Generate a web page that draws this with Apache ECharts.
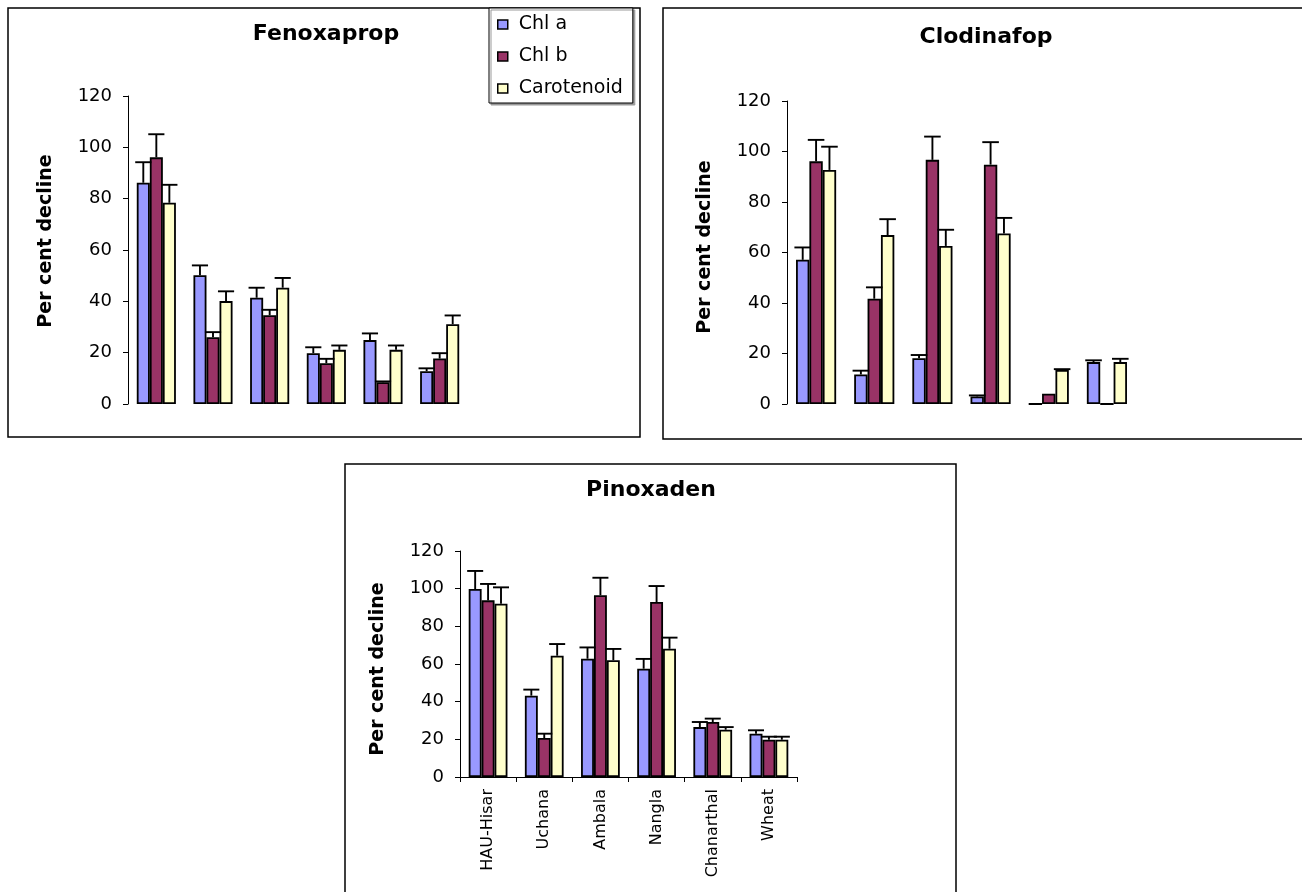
<!DOCTYPE html>
<html>
<head>
<meta charset="utf-8">
<script src="https://cdn.jsdelivr.net/npm/echarts@6/dist/echarts.min.js"></script>
<style>
html,body{margin:0;padding:0;background:#fff;}
#chart{width:1302px;height:892px;}
</style>
</head>
<body>
<div id="chart"></div>
<script>
// ---------------- DATA ----------------
const categories = ['HAU-Hisar', 'Uchana', 'Ambala', 'Nangla', 'Chanarthal', 'Wheat'];
const seriesNames = ['Chl a', 'Chl b', 'Carotenoid'];
const panelTitles = ['Fenoxaprop', 'Clodinafop', 'Pinoxaden'];
const yAxisTitle = 'Per cent decline';
const yMin = 0, yMax = 120, yStep = 20;

// Fenoxaprop
const fenoxapropChlA = [86.2, 50.2, 41.4, 19.8, 24.9, 12.8];
const fenoxapropChlB = [96.1, 26.0, 34.6, 15.9, 8.5, 17.7];
const fenoxapropCarot = [78.4, 40.1, 45.3, 21.1, 21.1, 31.1];
const fenoxapropChlAErr = [8.0, 3.8, 3.9, 2.3, 2.6, 1.1];
const fenoxapropChlBErr = [9.0, 2.0, 2.1, 1.7, 0.3, 2.1];
const fenoxapropCarotErr = [7.0, 3.8, 3.8, 1.7, 1.7, 3.4];

// Clodinafop
const clodinafopChlA = [57.1, 11.7, 18.1, 3.0, 0, 16.6];
const clodinafopChlB = [96.1, 41.7, 96.7, 94.8, 4.1, 0];
const clodinafopCarot = [92.7, 66.9, 62.6, 67.5, 13.5, 16.6];
const clodinafopChlAErr = [4.9, 1.5, 1.3, 0.4, null, 0.7];
const clodinafopChlBErr = [8.5, 4.5, 9.2, 8.9, null, null];
const clodinafopCarotErr = [9.2, 6.3, 6.4, 6.2, 0.3, 1.3];

// Pinoxaden
const pinoxadenChlA = [99.8, 43.2, 62.8, 57.5, 26.5, 23.0];
const pinoxadenChlB = [93.8, 20.7, 96.5, 92.9, 29.2, 19.8];
const pinoxadenCarot = [92.0, 64.4, 62.0, 68.1, 25.1, 19.8];
const pinoxadenChlAErr = [9.6, 3.2, 6.0, 5.2, 2.7, 1.8];
const pinoxadenChlBErr = [8.7, 2.3, 9.3, 8.5, 1.8, 1.6];
const pinoxadenCarotErr = [8.7, 6.2, 6.0, 5.9, 1.4, 1.6];

// ---------------- STYLE / LAYOUT ----------------
const FONT = 'DejaVu Sans';
const colors = ['#9999FF', '#993366', '#FFFFCC'];
const GAP = 0.31;

const panels = [
  { title: panelTitles[0], titlePos: [326, 34], frame: [8, 8, 632, 429], namePad: [0, 0, 0, 18],
    grid: { left: 128, top: 96, width: 340, height: 308 }, showX: false,
    values: [fenoxapropChlA, fenoxapropChlB, fenoxapropCarot],
    errors: [fenoxapropChlAErr, fenoxapropChlBErr, fenoxapropCarotErr] },
  { title: panelTitles[1], titlePos: [986, 37], frame: [663, 8, 660, 431], namePad: [0, 0, 0, 11],
    grid: { left: 787, top: 101, width: 349, height: 303 }, showX: false,
    values: [clodinafopChlA, clodinafopChlB, clodinafopCarot],
    errors: [clodinafopChlAErr, clodinafopChlBErr, clodinafopCarotErr] },
  { title: panelTitles[2], titlePos: [651, 490], frame: [345, 464, 611, 450], namePad: [0, 10, 0, 0],
    grid: { left: 460, top: 551, width: 337, height: 226 }, showX: true,
    values: [pinoxadenChlA, pinoxadenChlB, pinoxadenCarot],
    errors: [pinoxadenChlAErr, pinoxadenChlBErr, pinoxadenCarotErr] }
];

function errorRenderer(pos) {
  return function (params, api) {
    const cat = api.value(0), val = api.value(1), err = api.value(2);
    const band = api.size([1, 0])[0];
    const barW = band * (1 - GAP) / 3;
    const p0 = api.coord([cat, val]);
    const p1 = api.coord([cat, val + err]);
    const cx = p0[0] + (pos - 1) * barW;
    const half = barW * 0.62;
    const st = { stroke: '#000', lineWidth: 1.9 };
    return {
      type: 'group',
      children: [
        { type: 'line', shape: { x1: cx, y1: p0[1], x2: cx, y2: p1[1] }, style: st },
        { type: 'line', shape: { x1: cx - half, y1: p1[1], x2: cx + half, y2: p1[1] }, style: st }
      ]
    };
  };
}

const grids = [], xAxes = [], yAxes = [], series = [], graphics = [];

panels.forEach((p, i) => {
  grids.push(Object.assign({ containLabel: false, outerBoundsMode: 'none' }, p.grid));
  xAxes.push({
    type: 'category', gridIndex: i, data: categories,
    boundaryGap: true,
    axisLine: { show: p.showX, lineStyle: { color: '#000', width: 1 } },
    axisTick: { show: p.showX, length: 5, inside: false, alignWithLabel: false, lineStyle: { color: '#000' } },
    axisLabel: { show: p.showX, rotate: 90, margin: 12, interval: 0, color: '#000', fontFamily: FONT, fontSize: 16 },
    splitLine: { show: false }
  });
  yAxes.push({
    type: 'value', gridIndex: i, min: yMin, max: yMax, interval: yStep,
    name: yAxisTitle, nameLocation: 'middle', nameGap: 72,
    nameTextStyle: { fontFamily: FONT, fontWeight: 'bold', fontSize: 19, color: '#000', padding: p.namePad },
    axisLine: { show: true, lineStyle: { color: '#000', width: 1 } },
    axisTick: { show: true, length: 5, inside: false, lineStyle: { color: '#000' } },
    axisLabel: { color: '#000', fontFamily: FONT, fontSize: 18, margin: 16 },
    splitLine: { show: false }
  });
  p.values.forEach((vals, s) => {
    series.push({
      name: seriesNames[s], type: 'bar', xAxisIndex: i, yAxisIndex: i,
      data: vals, barGap: '0%', barCategoryGap: (GAP * 100) + '%',
      itemStyle: { color: colors[s], borderColor: '#000', borderWidth: 1.8 },
      emphasis: { disabled: true }, animation: false, z: 2
    });
  });
  p.errors.forEach((errs, s) => {
    const d = [];
    errs.forEach((e, k) => { if (e !== null && e !== undefined) d.push([k, p.values[s][k], e]); });
    series.push({
      type: 'custom', xAxisIndex: i, yAxisIndex: i, data: d,
      encode: { x: 0, y: 1 }, renderItem: errorRenderer(s), clip: false,
      silent: true, animation: false, z: 3
    });
  });
  graphics.push({
    type: 'rect', z: -10, silent: true,
    shape: { x: p.frame[0], y: p.frame[1], width: p.frame[2], height: p.frame[3] },
    style: { fill: '#fff', stroke: '#000', lineWidth: 1.5 }
  });
  graphics.push({
    type: 'text', z: 5, silent: true, x: p.titlePos[0], y: p.titlePos[1],
    style: { text: p.title, font: 'bold 22px "DejaVu Sans"', fill: '#000', align: 'center', verticalAlign: 'middle' }
  });
});

const chart = echarts.init(document.getElementById('chart'), null, { renderer: 'canvas' });
chart.setOption({
  backgroundColor: '#fff',
  animation: false,
  graphic: graphics,
  legend: {
    data: seriesNames, orient: 'vertical', left: 489, top: 8,
    icon: 'rect', itemWidth: 10, itemHeight: 9, itemGap: 13,
    padding: [7, 10, 5, 8],
    backgroundColor: '#fff', borderColor: '#000', borderWidth: 1,
    shadowColor: '#999', shadowOffsetX: 2, shadowOffsetY: 2, shadowBlur: 0,
    textStyle: { fontFamily: FONT, fontSize: 19, color: '#000', padding: [0, 0, 0, 6] },
    itemStyle: { borderColor: '#000', borderWidth: 1.5 },
    selectedMode: false
  },
  grid: grids,
  xAxis: xAxes,
  yAxis: yAxes,
  series: series
});
</script>
</body>
</html>
